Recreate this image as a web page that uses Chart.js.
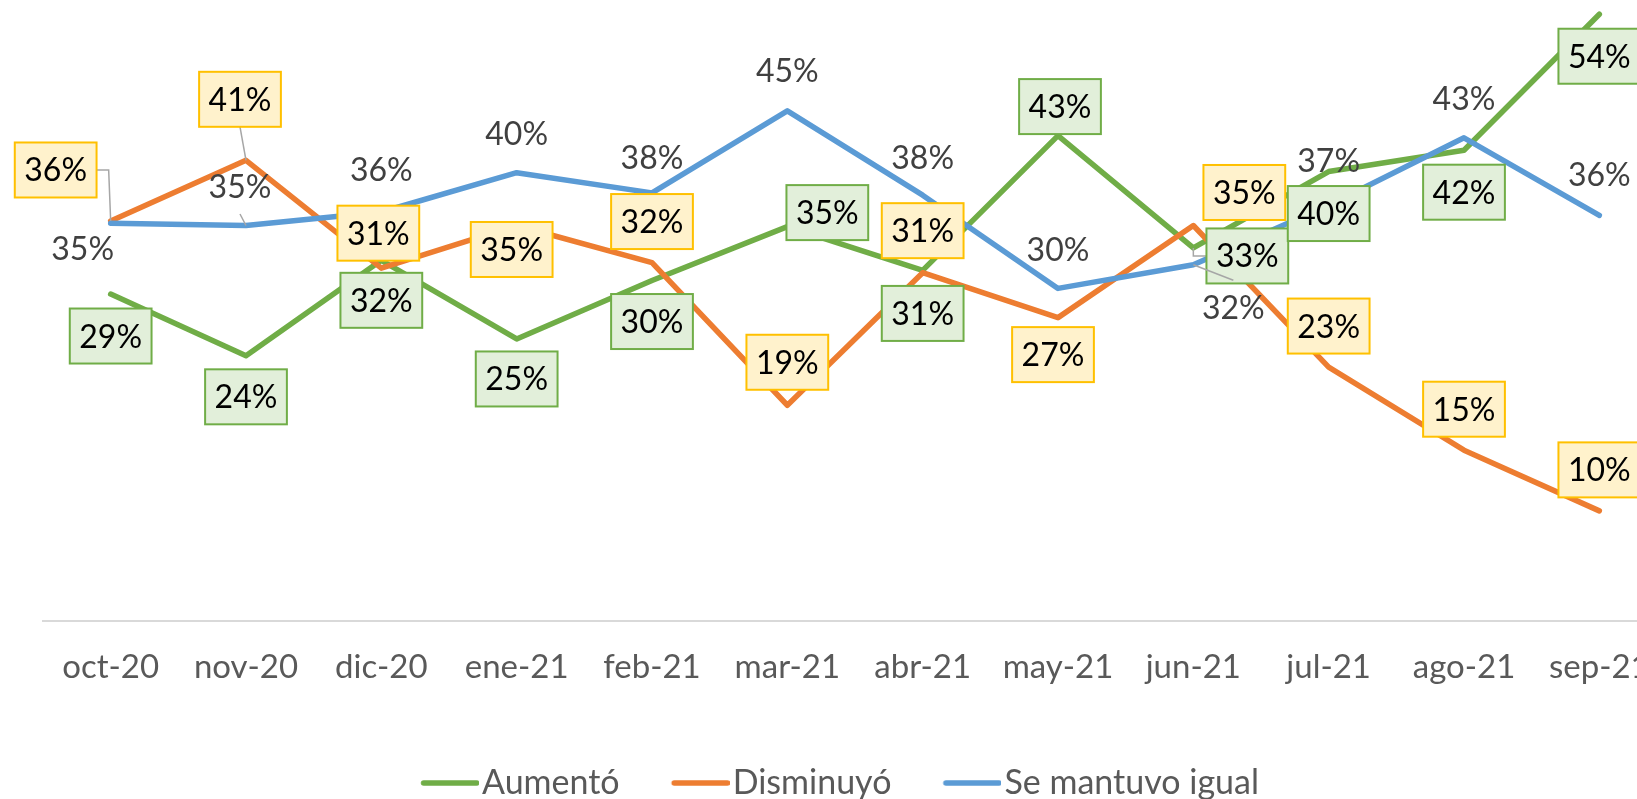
<!DOCTYPE html>
<html>
<head>
<meta charset="utf-8">
<script src="https://cdn.jsdelivr.net/npm/chart.js@4.4.1/dist/chart.umd.min.js"></script>
<style>
  html, body { margin: 0; padding: 0; background: #fff; overflow: hidden; }
  #wrap { width: 1637px; height: 799px; overflow: hidden; position: relative; }
  canvas { display: block; }
</style>
</head>
<body>
<div id="wrap"><canvas id="chart" width="1700" height="813"></canvas></div>
<script>
// -------------------------------
// Data
// -------------------------------
const months = ['oct-20', 'nov-20', 'dic-20', 'ene-21', 'feb-21', 'mar-21',
                'abr-21', 'may-21', 'jun-21', 'jul-21', 'ago-21', 'sep-21'];
const aumento   = [29.1, 23.6, 32.1, 25.1, 30.3, 35.1, 31.2, 43.2, 33.2, 40.0, 41.9, 54.0];
const disminuyo = [35.6, 41.0, 31.4, 35.2, 31.9, 19.2, 31.0, 27.0, 35.2, 22.6, 15.2, 9.8];
const mantuvo   = [35.4, 35.2, 36.4, 39.9, 38.1, 45.4, 37.9, 29.6, 31.7, 37.0, 43.0, 36.1];
const seriesNames = ['Aumentó', 'Disminuyó', 'Se mantuvo igual'];

// -------------------------------
// Label placement (pixel offset from each point)
// -------------------------------
const aumentoLabelPos = [[0, 42], [0, 41], [0, 40], [0, 40], [0, 41], [40, -14],
                         [0, 43], [2, -29], [54, 8], [0, 42], [0, 42], [0, 42]];
const disminuyoLabelPos = [[-55, -51], [-6, -61], [-3, -35], [-5, 24], [0, -41], [0, -43],
                           [0, -42], [-5, 37], [51, -33], [0, -41], [0, -41], [0, -41]];
const mantuvoLabelPos = [[-28, 25], [-6, -39], [0, -42], [0, -39], [0, -35], [0, -40],
                         [0, -38], [0, -39], [40, 43], [0, -45], [0, -39], [0, -41]];
// leader lines: [dataset, point, side of the label they leave from]
const leaders = [[1, 0, 'right'], [1, 1, 'bottom'], [2, 1, 'bottom'], [2, 8, 'top'], [0, 8, 'left']];

const colors = ['#70AD47', '#ED7D31', '#5B9BD5'];
const labelStyles = [
  { pos: aumentoLabelPos, fill: '#E2EFDA', stroke: '#70AD47', text: '#000000' },
  { pos: disminuyoLabelPos, fill: '#FFF2CC', stroke: '#FFC000', text: '#000000' },
  { pos: mantuvoLabelPos, fill: null, stroke: null, text: '#404040' }
];

// -------------------------------
// Data labels plugin
// -------------------------------
const dataLabels = {
  id: 'dataLabels',
  afterDatasetsDraw(chart) {
    const ctx = chart.ctx;
    ctx.save();
    ctx.font = '32px Lato';
    ctx.textAlign = 'center';
    ctx.textBaseline = 'alphabetic';
    chart.data.datasets.forEach((ds, di) => {
      const meta = chart.getDatasetMeta(di);
      const st = labelStyles[di];
      meta.data.forEach((pt, i) => {
        const cx = pt.x + st.pos[i][0];
        const cy = pt.y + st.pos[i][1];
        const text = Math.round(ds.data[i]) + '%';
        const bw = ctx.measureText(text).width + 19;
        const bh = 55;

        const lead = leaders.find(l => l[0] === di && l[1] === i);
        if (lead) {
          ctx.strokeStyle = '#A6A6A6';
          ctx.lineWidth = 1.5;
          ctx.beginPath();
          if (lead[2] === 'right' || lead[2] === 'left') {
            const sx = lead[2] === 'right' ? cx + bw / 2 : cx - bw / 2;
            ctx.moveTo(sx, cy);
            ctx.lineTo(pt.x + (lead[2] === 'right' ? -2 : 0), cy);
          } else {
            ctx.moveTo(cx, lead[2] === 'bottom' ? cy + bh / 2 : cy - bh / 2);
          }
          ctx.lineTo(pt.x, pt.y);
          ctx.stroke();
        }

        if (st.fill) {
          ctx.fillStyle = st.fill;
          ctx.fillRect(cx - bw / 2, cy - bh / 2, bw, bh);
          ctx.strokeStyle = st.stroke;
          ctx.lineWidth = 2;
          ctx.strokeRect(cx - bw / 2, cy - bh / 2, bw, bh);
        }
        ctx.fillStyle = st.text;
        ctx.fillText(text, cx, cy + 11.5);
      });
    });
    ctx.restore();
  }
};

// legend swatch: a short line drawn as an image so the text sits right after it
function swatch(color) {
  const c = document.createElement('canvas');
  c.width = 72;
  c.height = 10;
  const g = c.getContext('2d');
  g.strokeStyle = color;
  g.lineWidth = 5.5;
  g.lineCap = 'round';
  g.beginPath();
  g.moveTo(16.5, 5);
  g.lineTo(69.5, 5);
  g.stroke();
  return c;
}

// -------------------------------
// Chart.js
// -------------------------------
function makeChart() {
  Chart.defaults.font.family = 'Lato';
  Chart.defaults.color = '#595959';

  const series = [aumento, disminuyo, mantuvo];
  new Chart(document.getElementById('chart'), {
    type: 'line',
    data: {
      labels: months,
      datasets: series.map((d, i) => ({
        label: seriesNames[i],
        data: d,
        borderColor: colors[i],
        backgroundColor: colors[i],
        borderWidth: 5.5,
        borderCapStyle: 'round',
        borderJoinStyle: 'round',
        pointRadius: 0,
        tension: 0,
        order: 2 - i
      }))
    },
    options: {
      responsive: false,
      animation: false,
      layout: { padding: { left: 13, right: 33, top: 3, bottom: 3 } },
      scales: {
        x: {
          offset: true,
          grid: { display: false, drawTicks: false },
          border: { display: true, color: '#D9D9D9', width: 2 },
          ticks: { color: '#595959', font: { size: 33 }, padding: 27, maxRotation: 0, autoSkip: false },
          afterFit: s => { s.height = 93; }
        },
        y: {
          min: 0,
          max: 55,
          grid: { display: false },
          border: { display: false },
          ticks: { display: false },
          afterFit: s => { s.width = 30; }
        }
      },
      plugins: {
        tooltip: { enabled: false },
        legend: {
          position: 'bottom',
          labels: {
            usePointStyle: true,
            pointStyleWidth: 44,
            padding: 52,
            color: '#595959',
            font: { size: 34 },
            sort: (a, b) => a.datasetIndex - b.datasetIndex,
            generateLabels: chart => Chart.defaults.plugins.legend.labels.generateLabels(chart).map(item => {
              item.pointStyle = swatch(colors[item.datasetIndex]);
              return item;
            })
          }
        }
      }
    },
    plugins: [dataLabels]
  });
}

document.fonts.load('32px Lato').then(makeChart, makeChart);
</script>
</body>
</html>
